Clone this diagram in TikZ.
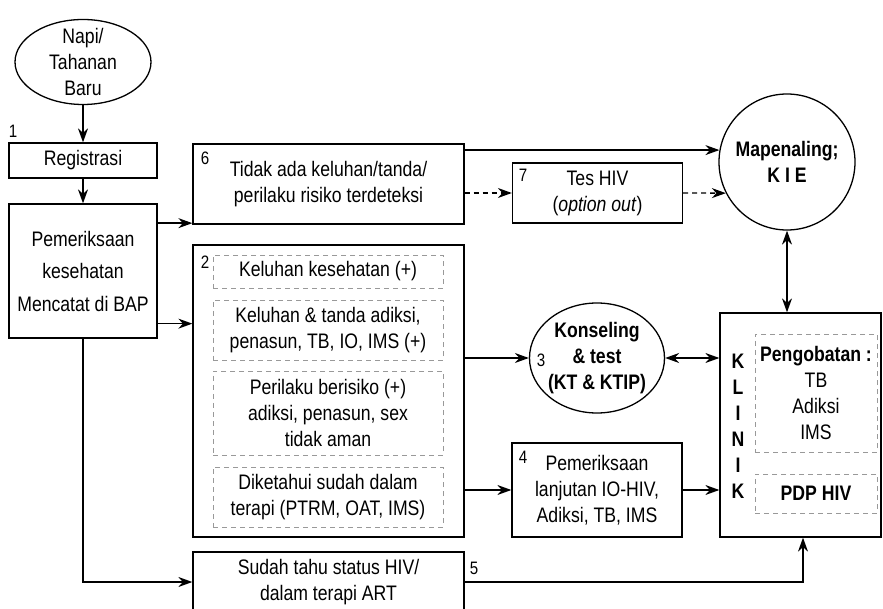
\documentclass[tikz,border=0pt]{standalone}
\usepackage{fontspec}
\setmainfont{Liberation Sans}[FakeStretch=0.84]
\usetikzlibrary{shapes.geometric,arrows.meta}
\newcommand{\boxfont}{\fontsize{21}{26}\selectfont}
\tikzstyle{startstop} = [ellipse, draw=black, line width=1.3pt, align=center, inner sep=-2pt]
\tikzstyle{process} = [rectangle, draw=black, line width=1.3pt, align=center]
\tikzstyle{item} = [rectangle, draw=black!40, thick, dash pattern=on 5pt off 4pt, align=center, minimum width=230pt]
\tikzstyle{number} = [font=\fontsize{18}{18}\selectfont, inner sep=0pt]
\tikzstyle{arrow} = [line width=1.3pt,->,>={Stealth[length=14pt,width=10pt]}]
\tikzstyle{darrow} = [arrow, dash pattern=on 5pt off 4pt]
\tikzstyle{both} = [arrow, <->]

\begin{document}
\begin{tikzpicture}[x=1pt, y=-1pt, font=\boxfont]
	\useasboundingbox (0,0) rectangle (883,609);
	
	\node (napi) [startstop, minimum width=136pt, minimum height=85pt, inner sep=-9pt] at (83,62) {Napi/\\Tahanan\\Baru};
	
	\node (reg) [process, minimum width=148pt, minimum height=35pt] at (83,160.5) {Registrasi};
	
	\node (pem) [process, minimum width=148pt, minimum height=134pt] at (83,271) {Pemeriksaan\\[6.5pt]kesehatan\\[6.5pt]Mencatat di BAP};
	
	\node (box6) [process, minimum width=271pt, minimum height=80pt] at (328.5,184) {Tidak ada keluhan/tanda/\\perilaku risiko terdeteksi};
	
	\node (box7) [process, minimum width=170pt, minimum height=60pt] at (597.5,193) {Tes HIV\\(\textit{option out})};
	
	\node (kie) [circle, draw=black, line width=1.3pt, minimum size=136pt, align=center, font=\boxfont\bfseries] at (787,162) {Mapenaling;\\K I E};
	
	\node (box2) [process, minimum width=271pt, minimum height=292pt] at (328.5,391) {};
	
	\node (keluhan) [item, minimum height=33pt] at (328,271.5) {Keluhan kesehatan (+)};
	
	\node (tanda) [item, minimum height=60pt] at (328,330) {Keluhan \& tanda adiksi,\\penasun, TB, IO, IMS (+)};
	
	\node (perilaku) [item, minimum height=84pt] at (328,413) {Perilaku berisiko (+)\\adiksi, penasun, sex\\tidak aman};
	
	\node (terapi) [item, minimum height=60pt] at (328,497) {Diketahui sudah dalam\\terapi (PTRM, OAT, IMS)};
	
	\node (kons) [startstop, minimum width=135pt, minimum height=110pt, font=\boxfont\bfseries] at (597,358) {Konseling\\\& test\\(KT \& KTIP)};
	
	\node (pem4) [process, minimum width=170pt, minimum height=94pt] at (597,490) {Pemeriksaan\\lanjutan IO-HIV,\\Adiksi, TB, IMS};
	
	\node (klinik) [process, minimum width=161pt, minimum height=224pt] at (800.5,425) {};
	
	\node (kl) [align=center, font=\boxfont\bfseries] at (738,426.5) {K\\L\\I\\N\\I\\K};
	
	\node (obat) [item, minimum width=122pt, minimum height=118pt] at (816,393) {\textbf{Pengobatan :}\\TB\\Adiksi\\IMS};
	
	\node (pdp) [item, minimum width=122pt, minimum height=39pt, font=\boxfont\bfseries] at (816,493.5) {PDP HIV};
	
	\node (box5) [process, minimum width=271pt, minimum height=60pt] at (328.5,582) {Sudah tahu status HIV/\\dalam terapi ART};
	
	% step numbers
	\node (n1) [number] at (13,131) {1};
	\node (n2) [number] at (205,262) {2};
	\node (n3) [number] at (541,360) {3};
	\node (n4) [number] at (523,457) {4};
	\node (n5) [number] at (474,568) {5};
	\node (n6) [number] at (205,158) {6};
	\node (n7) [number] at (523,175) {7};
	
	\coordinate (p6) at ([yshift=1.5pt]box6.south west);
	\coordinate (p2) at ([yshift=15pt]pem.south east);

	\draw[arrow] (napi) -- (reg);
	\draw[arrow] (reg) -- (pem);
	\draw[arrow] (pem.east |- p6) -- (p6);
	\draw[arrow] (p2) -- (p2 -| box2.west);
	\draw[arrow] (pem.south) |- (box5.west);
	\draw[arrow] (kie.170 -| box6.east) -- (kie.170);
	\draw[darrow] (box6.east |- box7.west) -- (box7.west);
	\draw[darrow] (box7.east) -- (kie.207);
	\draw[both] (kie.south) -- (kie.south |- klinik.north);
	\draw[arrow] (box2.east |- kons.west) -- (kons.west);
	\draw[both] (kons.east) -- (kons.east -| klinik.west);
	\draw[arrow] (box2.east |- pem4.west) -- (pem4.west);
	\draw[arrow] (pem4.east) -- (pem4.east -| klinik.west);
	\draw[arrow] (box5.east) -| ([xshift=2.5pt]klinik.south);
	
\end{tikzpicture}
\end{document}
